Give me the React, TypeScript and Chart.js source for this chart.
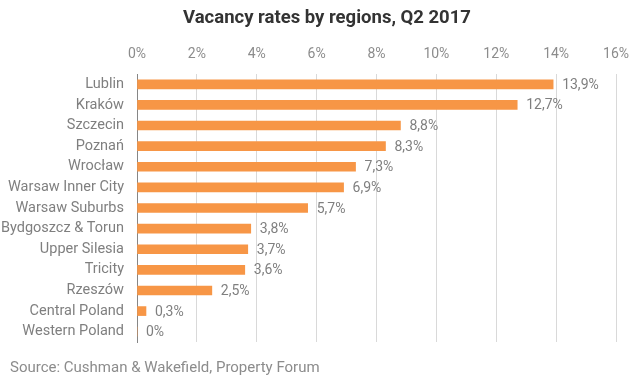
import React, { useEffect, useRef } from "react";
import { Chart, registerables } from "chart.js";

Chart.register(...registerables);

const categories = [
  "Lublin",
  "Kraków",
  "Szczecin",
  "Poznań",
  "Wrocław",
  "Warsaw Inner City",
  "Warsaw Suburbs",
  "Bydgoszcz & Torun",
  "Upper Silesia",
  "Tricity",
  "Rzeszów",
  "Central Poland",
  "Western Poland",
];
const vacancyRates = [13.9, 12.7, 8.8, 8.3, 7.3, 6.9, 5.7, 3.8, 3.7, 3.6, 2.5, 0.3, 0];
const titleText = "Vacancy rates by regions, Q2 2017";
const sourceText = "Source: Cushman & Wakefield, Property Forum";

const fmt = (v: number) => (v === 0 ? "0%" : v.toFixed(1).replace(".", ",") + "%");

const extras = {
  id: "extras",
  afterDatasetsDraw(chart: any) {
    const ctx = chart.ctx;
    const meta = chart.getDatasetMeta(0);
    ctx.save();
    ctx.font = "14px Roboto";
    ctx.fillStyle = "#7f7f7f";
    ctx.textAlign = "left";
    ctx.textBaseline = "middle";
    meta.data.forEach((bar: any, i: number) => {
      ctx.fillText(fmt(vacancyRates[i]), bar.x + 9, bar.y + 1);
    });
    ctx.restore();
  },
  afterDraw(chart: any) {
    const ctx = chart.ctx;
    ctx.save();
    ctx.font = "bold 18.5px Roboto";
    ctx.fillStyle = "#333333";
    ctx.textAlign = "center";
    ctx.textBaseline = "middle";
    ctx.fillText(titleText, 327, 18);
    ctx.font = "15px Roboto";
    ctx.fillStyle = "#8c8c8c";
    ctx.textAlign = "left";
    ctx.fillText(sourceText, 10, 368);
    ctx.restore();
  },
};

export default function App() {
  const ref = useRef<HTMLCanvasElement>(null);
  useEffect(() => {
    document.body.style.margin = "0";
    const chart = new Chart(ref.current!, {
      type: "bar",
      data: {
        labels: categories,
        datasets: [
          {
            data: vacancyRates,
            backgroundColor: "#F79646",
            barThickness: 9,
          },
        ],
      },
      options: {
        indexAxis: "y",
        animation: false,
        responsive: false,
        layout: { padding: { left: 0, right: 23, top: 40, bottom: 37 } },
        plugins: { legend: { display: false }, tooltip: { enabled: false } },
        scales: {
          x: {
            position: "top",
            min: 0,
            max: 16,
            ticks: {
              stepSize: 2,
              callback: (v: any) => v + "%",
              color: "#8c8c8c",
              font: { family: "Roboto", size: 14 },
              padding: 11,
            },
            grid: { color: "#d9d9d9", drawTicks: false },
            border: { display: false },
            afterFit: (s: any) => {
              s.height = 34;
            },
          },
          y: {
            ticks: {
              color: "#7f7f7f",
              font: { family: "Roboto", size: 14.5 },
              padding: 13,
            },
            grid: { display: false, drawTicks: false },
            border: { display: true, color: "#868686", width: 1 },
            afterFit: (s: any) => {
              s.width = 137;
            },
          },
        },
      },
      plugins: [extras],
    });
    return () => chart.destroy();
  }, []);
  return <canvas ref={ref} width={640} height={379} />;
}
